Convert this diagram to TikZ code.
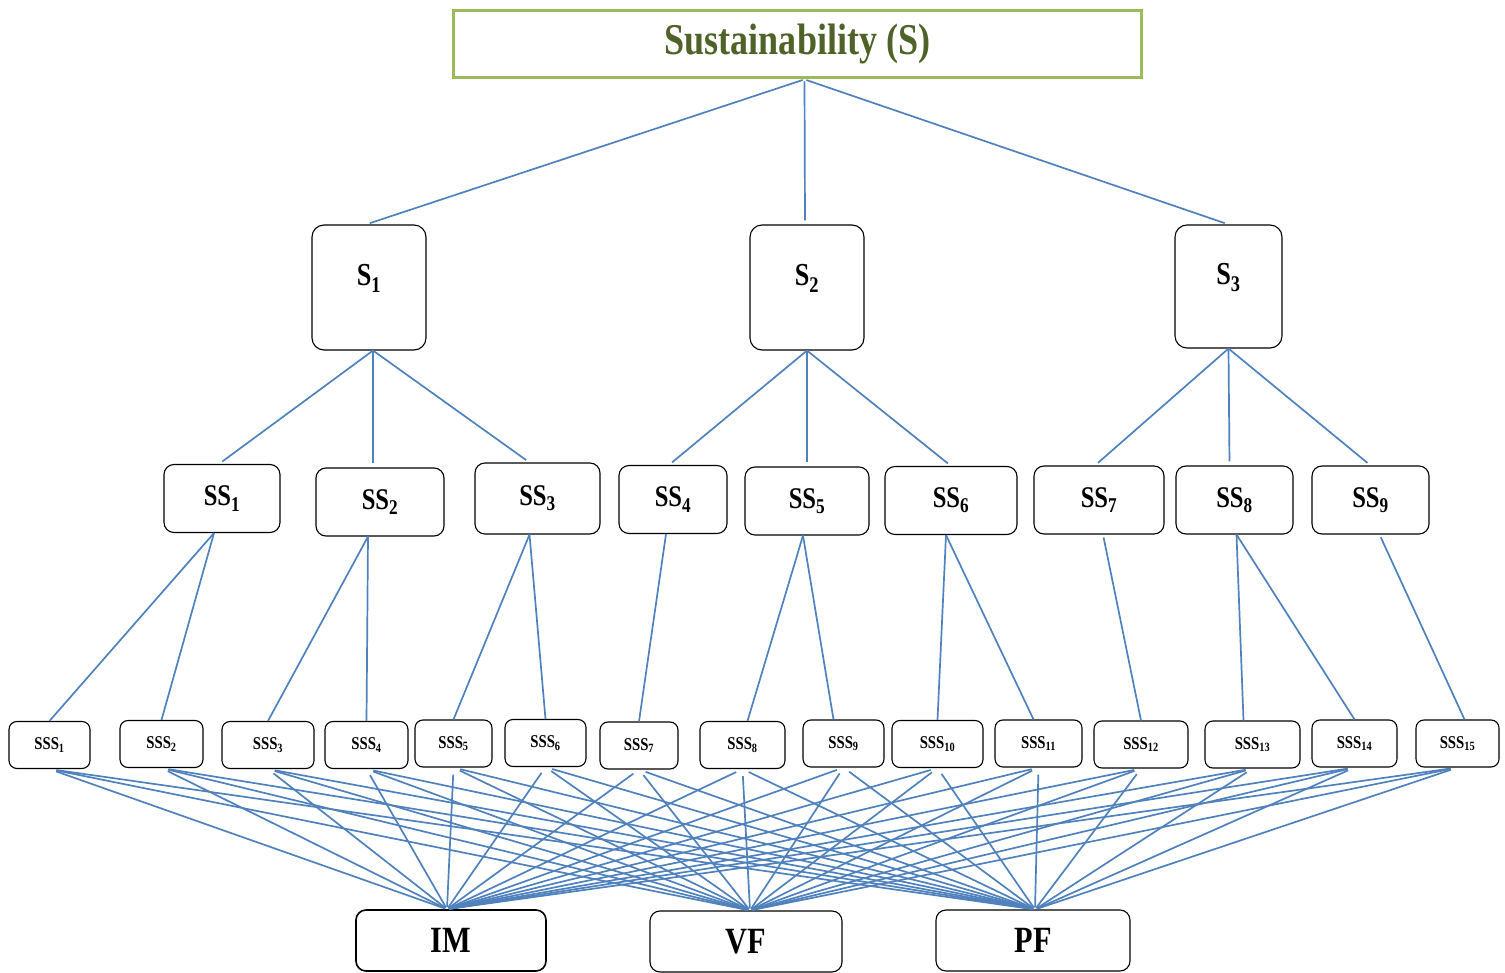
\documentclass[tikz,border=0pt]{standalone}
\usepackage{fontspec}
\setmainfont{Liberation Serif}[FakeStretch=0.82]
\usetikzlibrary{positioning}
\definecolor{linkblue}{RGB}{79,129,189}
\definecolor{framegreen}{RGB}{155,187,89}
\definecolor{textolive}{RGB}{79,98,40}

\begin{document}
\begin{tikzpicture}[
  x=1pt, y=-1pt,
  goal/.style={rectangle, draw=framegreen, line width=3.8pt, minimum width=688pt, minimum height=67pt, text=textolive, font=\fontsize{44}{44}\selectfont\bfseries},
  crit/.style={rectangle, draw, rounded corners=12pt, line width=1.1pt, minimum width=114pt, minimum height=125pt, text height=23pt, text depth=26pt, font=\fontsize{32}{32}\selectfont\bfseries},
  sub/.style={rectangle, draw, rounded corners=10pt, line width=1.1pt, minimum height=68pt, font=\fontsize{30}{30}\selectfont\bfseries},
  subsub/.style={rectangle, draw, rounded corners=8pt, line width=1.1pt, minimum height=47pt, font=\fontsize{18}{18}\selectfont\bfseries},
  alt/.style={rectangle, draw, rounded corners=10pt, line width=1.1pt, minimum height=61pt, font=\fontsize{37}{37}\selectfont\bfseries},
  link/.style={draw=linkblue, line width=1.7pt}
]
\useasboundingbox (0,0) rectangle (1505,973);

% Goal
\node[goal] (goal) at (797.5,44) {Sustainability (S)};

% Criteria
\node[crit] (s1) at (369,287.5) {S\textsubscript{1}};
\node[crit] (s2) at (807,287.5) {S\textsubscript{2}};
\node[crit, minimum width=107pt, minimum height=123pt] (s3) at (1228.5,286.5) {S\textsubscript{3}};

% Sub-criteria
\node[sub, minimum width=116pt] (ss1) at (222,498.5) {SS\textsubscript{1}};
\node[sub, minimum width=128pt] (ss2) at (380,502) {SS\textsubscript{2}};
\node[sub, minimum width=125pt, minimum height=71pt] (ss3) at (537.5,498.5) {SS\textsubscript{3}};
\node[sub, minimum width=108pt] (ss4) at (673,499.5) {SS\textsubscript{4}};
\node[sub, minimum width=124pt] (ss5) at (807,501) {SS\textsubscript{5}};
\node[sub, minimum width=132pt] (ss6) at (951,500.5) {SS\textsubscript{6}};
\node[sub, minimum width=130pt] (ss7) at (1099,500) {SS\textsubscript{7}};
\node[sub, minimum width=117pt] (ss8) at (1234.5,500) {SS\textsubscript{8}};
\node[sub, minimum width=117pt] (ss9) at (1370.5,500) {SS\textsubscript{9}};

% Sub-sub-criteria
\foreach \i/\x/\y/\w in {1/49.5/745/81, 2/161.5/744/83, 3/268/745/92, 4/366.5/745/83,
  5/453.5/743.5/77, 6/545.5/743/81, 7/639/745.5/78, 8/742.5/745/85, 9/843.5/743.5/81,
  10/937.5/744/91, 11/1038.5/743.5/87, 12/1141/744.5/94, 13/1252.5/744.5/95,
  14/1354.5/743.5/85, 15/1457.5/743.5/83}
  \node[subsub, minimum width=\w pt] (sss\i) at (\x,\y) {SSS\textsubscript{\i}};

% Alternatives
\node[alt, minimum width=190pt, line width=1.6pt] (im) at (451,940.5) {IM};
\node[alt, minimum width=192pt] (vf) at (746,941.5) {VF};
\node[alt, minimum width=194pt] (pf) at (1033,940.5) {PF};

% Goal to criteria
\draw[link, shorten <=2pt, shorten >=4pt] ([xshift=7pt]goal.south) -- ([xshift=-3pt]s1.north);
\draw[link, shorten <=2pt, shorten >=4pt] ([xshift=7pt]goal.south) -- ([xshift=-2pt]s2.north);
\draw[link, shorten <=2pt, shorten >=4pt] ([xshift=7pt]goal.south) -- (s3.north);

% Criteria to sub-criteria
\draw[link, shorten >=4pt] ([xshift=4pt]s1.south) -- ([xshift=-3pt]ss1.north);
\draw[link, shorten >=4pt] ([xshift=4pt]s1.south) -- ([xshift=-7pt]ss2.north);
\draw[link, shorten >=4pt] ([xshift=4pt]s1.south) -- ([xshift=-8pt]ss3.north);
\draw[link, shorten >=4pt] (s2.south) -- ([xshift=-4pt]ss4.north);
\draw[link, shorten >=4pt] (s2.south) -- (ss5.north);
\draw[link, shorten >=4pt] (s2.south) -- (ss6.north);
\draw[link, shorten >=4pt] (s3.south) -- ([xshift=-4pt]ss7.north);
\draw[link, shorten >=4pt] (s3.south) -- ([xshift=-5pt]ss8.north);
\draw[link, shorten >=4pt] (s3.south) -- (ss9.north);

% Sub-criteria to sub-sub-criteria
\draw[link] ([xshift=-8pt]ss1.south) -- (sss1.north);
\draw[link] ([xshift=-8pt]ss1.south) -- (sss2.north);
\draw[link] ([xshift=-12pt]ss2.south) -- (sss3.north);
\draw[link] ([xshift=-12pt]ss2.south) -- (sss4.north);
\draw[link] ([xshift=-8pt]ss3.south) -- (sss5.north);
\draw[link] ([xshift=-8pt]ss3.south) -- (sss6.north);
\draw[link] ([xshift=-7pt]ss4.south) -- (sss7.north);
\draw[link] ([xshift=-4pt]ss5.south) -- ([xshift=5pt]sss8.north);
\draw[link] ([xshift=-4pt]ss5.south) -- ([xshift=-10pt]sss9.north);
\draw[link] ([xshift=-5pt]ss6.south) -- (sss10.north);
\draw[link] ([xshift=-5pt]ss6.south) -- ([xshift=-5pt]sss11.north);
\draw[link, shorten <=3pt] ([xshift=4pt]ss7.south) -- (sss12.north);
\draw[link] ([xshift=2pt]ss8.south) -- ([xshift=-9pt]sss13.north);
\draw[link] ([xshift=2pt]ss8.south) -- (sss14.north);
\draw[link, shorten <=3pt] ([xshift=9pt]ss9.south) -- ([xshift=7pt]sss15.north);

% Sub-sub-criteria to alternatives
\foreach \i in {1,...,15}
  \foreach \alt/\dx in {im/-4, vf/4, pf/2}
    \draw[link, shorten <=7pt, shorten >=2pt] (sss\i.south) -- ([xshift=\dx pt]\alt.north);

\end{tikzpicture}
\end{document}
